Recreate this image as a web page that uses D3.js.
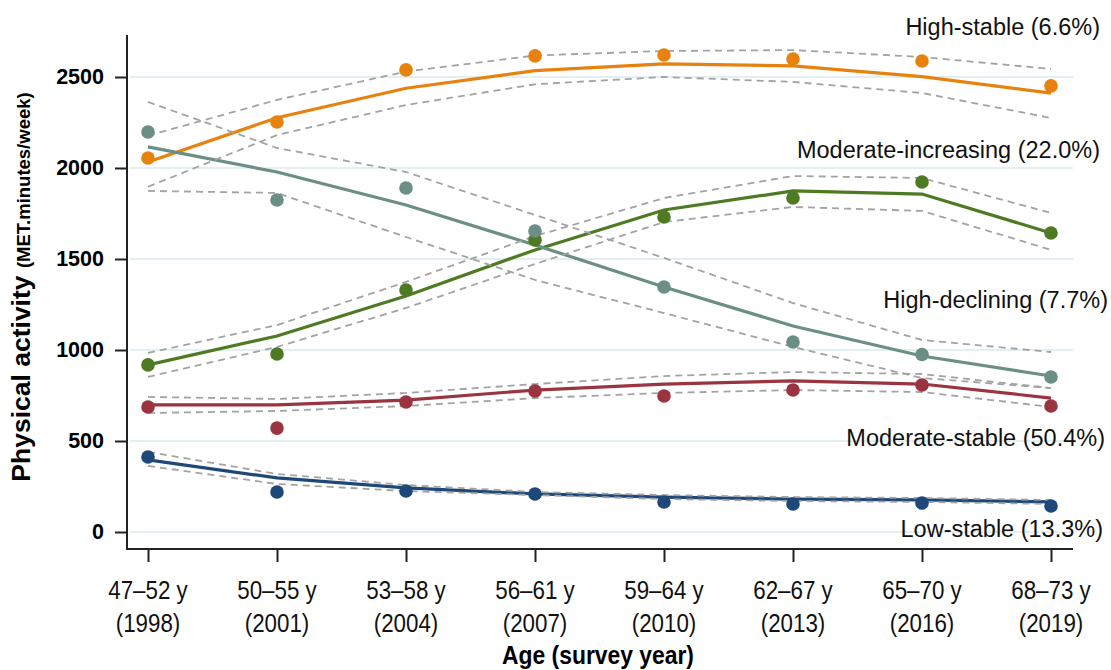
<!DOCTYPE html>
<html>
<head>
<meta charset="utf-8">
<script src="https://cdn.jsdelivr.net/npm/d3@7"></script>
<style>
  body { margin: 0; background: #fff; }
  svg { font-family: "Liberation Sans", Arial, sans-serif; }
</style>
</head>
<body>
<svg id="chart" width="1111" height="670"></svg>
<script>
const ages = ['47–52 y', '50–55 y', '53–58 y', '56–61 y', '59–64 y', '62–67 y', '65–70 y', '68–73 y'];
const years = ['(1998)', '(2001)', '(2004)', '(2007)', '(2010)', '(2013)', '(2016)', '(2019)'];
const yTicks = [0, 500, 1000, 1500, 2000, 2500];

// observed means (dots), fitted trajectory (line), 95% CI (dashed)
const highStableObs = [2055, 2253, 2539, 2616, 2621, 2599, 2588, 2451];
const highStableFit = [2033, 2276, 2438, 2535, 2572, 2561, 2502, 2411];
const highStableHi = [2178, 2374, 2530, 2618, 2643, 2648, 2610, 2544];
const highStableLo = [1897, 2181, 2346, 2460, 2500, 2473, 2412, 2275];

const highDeclObs = [2198, 1824, 1890, 1654, 1346, 1044, 975, 852];
const highDeclFit = [2116, 1978, 1797, 1577, 1346, 1132, 967, 857];
const highDeclHi = [2363, 2110, 1978, 1742, 1506, 1258, 1055, 989];
const highDeclLo = [1874, 1863, 1621, 1385, 1203, 1017, 846, 791];

const modIncObs = [918, 978, 1330, 1605, 1731, 1835, 1923, 1643];
const modIncFit = [918, 1077, 1297, 1550, 1769, 1874, 1857, 1643];
const modIncHi = [984, 1137, 1374, 1626, 1835, 1956, 1945, 1753];
const modIncLo = [852, 1017, 1231, 1473, 1703, 1786, 1764, 1550];

const modStableObs = [687, 571, 714, 775, 747, 780, 808, 692];
const modStableFit = [698, 698, 725, 780, 813, 830, 813, 736];
const modStableHi = [742, 731, 764, 813, 857, 879, 868, 791];
const modStableLo = [654, 665, 692, 736, 764, 780, 769, 687];

const lowStableObs = [412, 220, 225, 209, 165, 154, 159, 143];
const lowStableFit = [396, 297, 242, 209, 192, 181, 176, 165];
const lowStableHi = [440, 319, 258, 220, 203, 192, 187, 176];
const lowStableLo = [363, 264, 225, 203, 181, 170, 165, 154];

const groups = [
  { name: 'High-stable (6.6%)', color: '#e8820e', obs: highStableObs, fit: highStableFit, hi: highStableHi, lo: highStableLo, ly: 35, lx: 1100 },
  { name: 'Moderate-increasing (22.0%)', color: '#4e7a24', obs: modIncObs, fit: modIncFit, hi: modIncHi, lo: modIncLo, ly: 158, lx: 1100 },
  { name: 'High-declining (7.7%)', color: '#6b8f86', obs: highDeclObs, fit: highDeclFit, hi: highDeclHi, lo: highDeclLo, ly: 308, lx: 1108 },
  { name: 'Moderate-stable (50.4%)', color: '#9b3441', obs: modStableObs, fit: modStableFit, hi: modStableHi, lo: modStableLo, ly: 446, lx: 1105 },
  { name: 'Low-stable (13.3%)', color: '#1d4879', obs: lowStableObs, fit: lowStableFit, hi: lowStableHi, lo: lowStableLo, ly: 537, lx: 1103 }
];

const svg = d3.select('#chart');
const plotLeft = 127, plotRight = 1073, plotTop = 35, axisY = 549;

const x = d3.scalePoint().domain(d3.range(ages.length)).range([148, 1051]);
const y = d3.scaleLinear().domain([0, 2500]).range([532, 77]);

// grid
svg.append('g').selectAll('line')
  .data(yTicks)
  .join('line')
  .attr('x1', plotLeft + 3).attr('x2', plotRight)
  .attr('y1', d => y(d)).attr('y2', d => y(d))
  .attr('stroke', '#e4eff3').attr('stroke-width', 2);

// y axis
const yAxis = d3.axisLeft(y).tickValues(yTicks).tickFormat(d3.format('d')).tickSize(12).tickPadding(11);
const gy = svg.append('g').attr('transform', `translate(${plotLeft},0)`).call(yAxis);
gy.select('.domain').remove();
gy.append('line').attr('x1', 0).attr('x2', 0).attr('y1', plotTop).attr('y2', axisY + 1)
  .attr('stroke', '#222').attr('stroke-width', 2);
gy.selectAll('.tick line').attr('stroke', '#222').attr('stroke-width', 2);
gy.selectAll('.tick text')
  .attr('fill', '#000')
  .style('font-family', '"Liberation Sans", Arial, sans-serif')
  .style('font-size', '21.5px').style('font-weight', 'bold');

// x axis
const xAxis = d3.axisBottom(x).tickSize(13).tickFormat('');
const gx = svg.append('g').attr('transform', `translate(0,${axisY})`).call(xAxis);
gx.select('.domain').remove();
gx.append('line').attr('x1', plotLeft - 1).attr('x2', plotRight).attr('y1', 0).attr('y2', 0)
  .attr('stroke', '#222').attr('stroke-width', 2);
gx.selectAll('.tick line').attr('stroke', '#222').attr('stroke-width', 2);

const xl = svg.append('g');
ages.forEach((a, i) => {
  const t = xl.append('g').attr('transform', `translate(${x(i)},0) scale(0.86,1)`);
  t.append('text').attr('y', 599).attr('text-anchor', 'middle')
    .style('font-size', '26px').attr('fill', '#111').text(a);
  t.append('text').attr('y', 632).attr('text-anchor', 'middle')
    .style('font-size', '26px').attr('fill', '#111').text(years[i]);
});

// axis titles
svg.append('g').attr('transform', 'translate(598,664) scale(0.88,1)')
  .append('text').attr('text-anchor', 'middle')
  .style('font-size', '26px').style('font-weight', 'bold').text('Age (survey year)');

const yt = svg.append('text')
  .attr('transform', 'translate(30,287) rotate(-90)')
  .attr('text-anchor', 'middle').style('font-weight', 'bold');
yt.append('tspan').style('font-size', '26.5px').text('Physical activity ');
yt.append('tspan').style('font-size', '18.5px').text('(MET.minutes/week)');

const line = d3.line().x((d, i) => x(i)).y(d => y(d));

// fitted lines
svg.append('g').selectAll('path')
  .data(groups)
  .join('path')
  .attr('d', g => line(g.fit))
  .attr('fill', 'none')
  .attr('stroke', g => g.color)
  .attr('stroke-width', 3.2);

// CI bands
const ci = svg.append('g');
groups.forEach(g => {
  [g.hi, g.lo].forEach(arr => {
    ci.append('path')
      .attr('d', line(arr))
      .attr('fill', 'none')
      .attr('stroke', '#a3a3a3')
      .attr('stroke-width', 1.8)
      .attr('stroke-dasharray', '7,5');
  });
});

// observed dots
groups.forEach(g => {
  svg.append('g').selectAll('circle')
    .data(g.obs)
    .join('circle')
    .attr('cx', (d, i) => x(i))
    .attr('cy', d => y(d))
    .attr('r', 6.8)
    .attr('fill', g.color);
});

// group labels
svg.append('g').selectAll('text')
  .data(groups)
  .join('text')
  .attr('x', g => g.lx)
  .attr('y', g => g.ly)
  .attr('text-anchor', 'end')
  .style('font-size', '23.5px')
  .attr('fill', '#111')
  .text(g => g.name);
</script>
</body>
</html>
